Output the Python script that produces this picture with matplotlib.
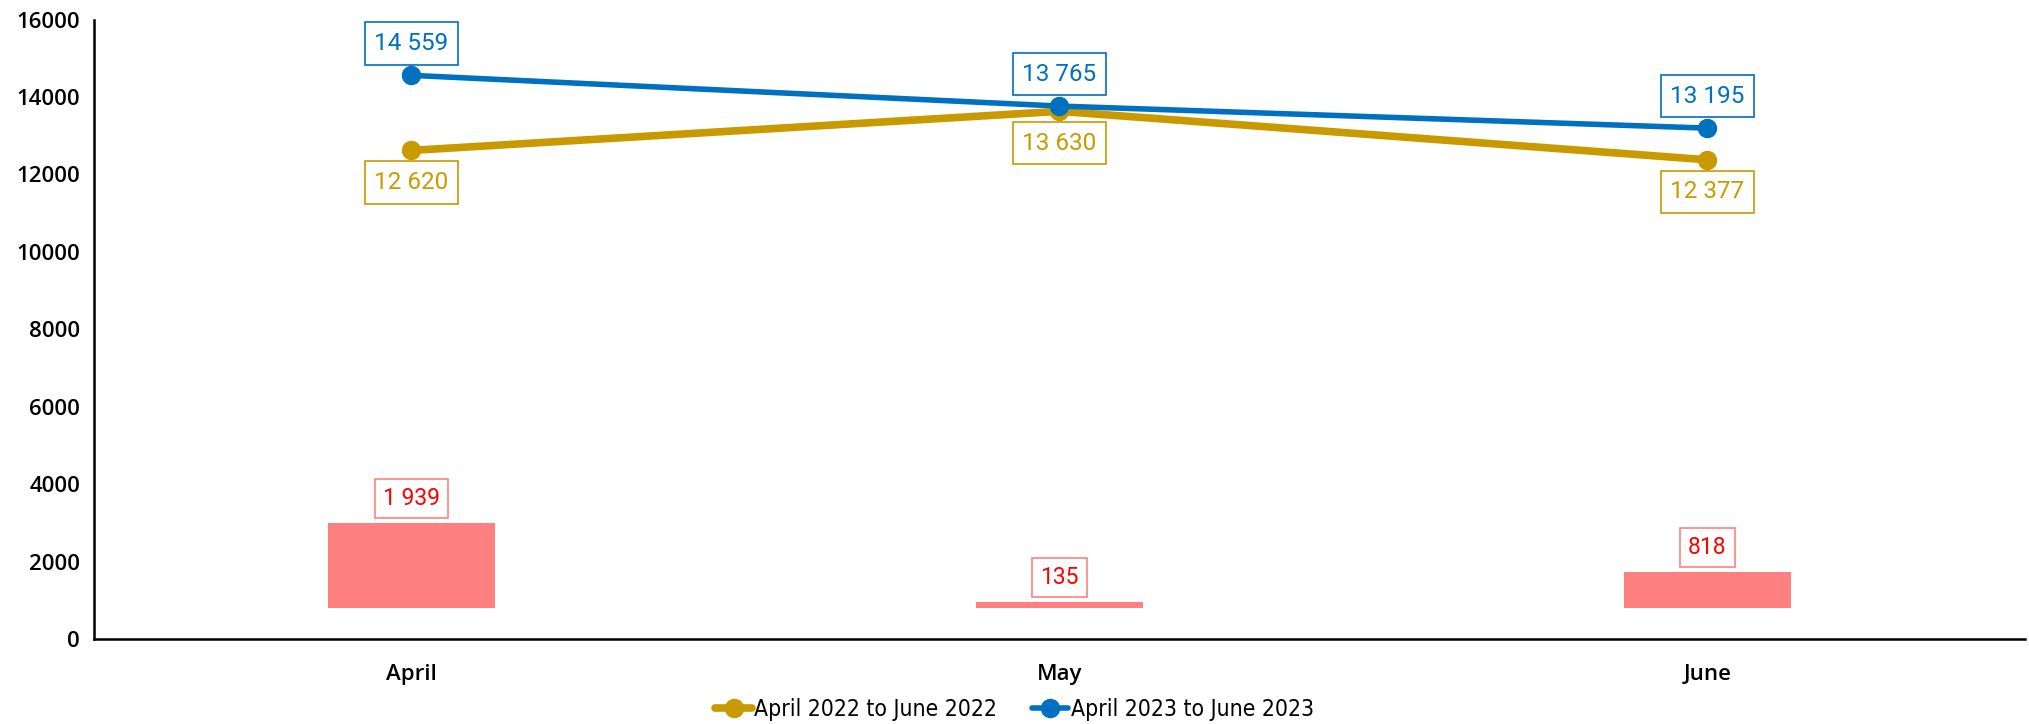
import matplotlib.pyplot as plt
from matplotlib import font_manager
import numpy as np

months = ["April", "May", "June"]
y2022 = [12620, 13630, 12377]
y2023 = [14559, 13765, 13195]
diff = [1939, 135, 818]
label2022 = "April 2022 to June 2022"
label2023 = "April 2023 to June 2023"

gold = "#C99A00"
blue = "#0070C0"
pink = "#FF8080"
red = "#FF0000"

# narrow font for legend if there is one
narrow = {"family": "Roboto", "size": 16}
fp = font_manager.FontProperties(family="DejaVu Sans", stretch="condensed")
if "Condensed" in font_manager.findfont(fp, fallback_to_default=False):
    narrow = {"family": "DejaVu Sans", "stretch": "condensed", "size": 16.5}

def fmt(v):
    return "{:,}".format(v).replace(",", " ")

fig = plt.figure(figsize=(20.29, 7.24), dpi=100)
ax = fig.add_axes([0.0463, 0.1174, 0.9517, 0.8556])
x = np.arange(len(months))

# difference bars sit on a hidden second axis (own scale, like the original)
ax2 = ax.twinx()
ax2.bar(x, diff, bottom=0, width=0.258, color=pink, zorder=1)
ax2.set_ylim(-708, 13451)
ax2.axis("off")
for xi, d in zip(x, diff):
    ax2.annotate(fmt(d), (xi, d), xytext=(0, 18), textcoords="offset points",
                 ha="center", va="center", color=red, fontsize=16.5, family="Roboto",
                 bbox=dict(boxstyle="square,pad=0.35", fc="white", ec="#FF8080", lw=1.2))

ax.set_zorder(ax2.get_zorder() + 1)
ax.patch.set_visible(False)

ax.plot(x, y2022, color=gold, lw=5.5, marker="o", ms=13, label=label2022, zorder=3,
        solid_capstyle="round")
ax.plot(x, y2023, color=blue, lw=4, marker="o", ms=13, label=label2023, zorder=4,
        solid_capstyle="round")

for xi, v in zip(x, y2023):
    ax.annotate(fmt(v), (xi, v), xytext=(0, 23), textcoords="offset points",
                ha="center", va="center", color=blue, fontsize=17.5, family="Roboto",
                bbox=dict(boxstyle="square,pad=0.4", fc="white", ec=blue, lw=1.2))
for xi, v in zip(x, y2022):
    ax.annotate(fmt(v), (xi, v), xytext=(0, -23), textcoords="offset points",
                ha="center", va="center", color=gold, fontsize=17.5, family="Roboto",
                bbox=dict(boxstyle="square,pad=0.4", fc="white", ec=gold, lw=1.2))

ax.set_xlim(-0.49, 2.49)
ax.set_ylim(0, 16000)
ax.set_yticks(np.arange(0, 16001, 2000))
ax.set_xticks(x)
ax.set_xticklabels(months)
for lab in ax.get_xticklabels() + ax.get_yticklabels():
    lab.set_family("Open Sans")
    lab.set_fontsize(16)
    lab.set_fontweight("semibold")
ax.tick_params(axis="both", length=0, pad=10)
ax.tick_params(axis="x", pad=18)
ax.spines["top"].set_visible(False)
ax.spines["right"].set_visible(False)
ax.spines["left"].set_linewidth(1.8)
ax.spines["bottom"].set_linewidth(1.8)

fig.legend(loc="lower center", bbox_to_anchor=(0.5, -0.025), ncol=2, frameon=False,
           handlelength=1.6, handletextpad=0.1, columnspacing=1.5, prop=narrow)

fig.savefig("out.png", dpi=100)
